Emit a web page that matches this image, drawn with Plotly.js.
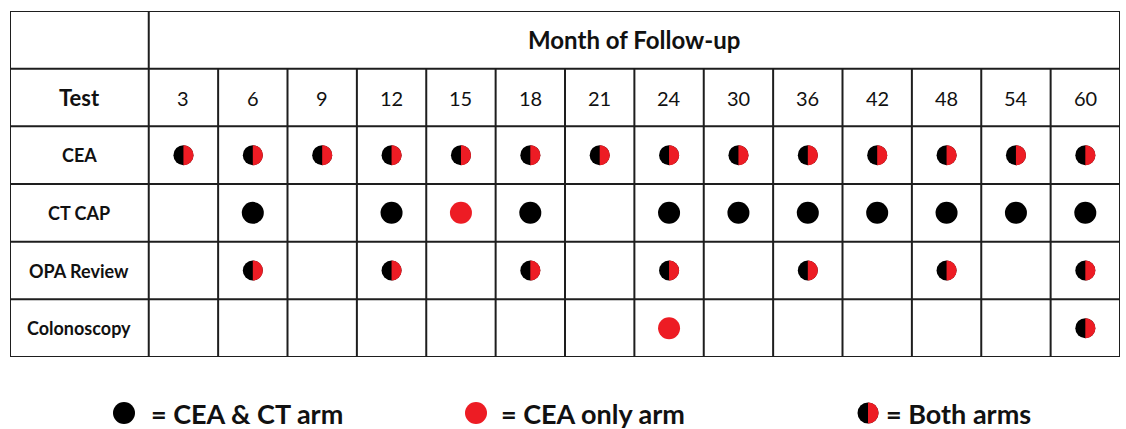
<!DOCTYPE html>
<html>
<head>
<meta charset="utf-8">
<script src="https://cdn.plot.ly/plotly-3.0.1.min.js"></script>
<style>
html,body{margin:0;padding:0;background:#fff;}
#chart{width:1126px;height:429px;}
</style>
</head>
<body>
<div id="chart"></div>
<script>
// ---- data ----
var headerTitle = "Month of Follow-up";
var firstColTitle = "Test";
var months = ["3","6","9","12","15","18","21","24","30","36","42","48","54","60"];
var tests = ["CEA", "CT CAP", "OPA Review", "Colonoscopy"];
// B = both arms, C = CEA & CT arm, O = CEA only arm, "" = none
var scheduleCEA         = ["B","B","B","B","B","B","B","B","B","B","B","B","B","B"];
var scheduleCTCAP       = ["", "C","", "C","O","C","", "C","C","C","C","C","C","C"];
var scheduleOPA         = ["", "B","", "B","", "B","", "B","", "B","", "B","", "B"];
var scheduleColonoscopy = ["", "", "", "", "", "", "", "O","", "", "", "", "", "B"];
var legendLabels = ["= CEA & CT arm", "= CEA only arm", "= Both arms"];
var legendKinds  = ["C", "O", "B"];

// ---- styles ----
var BLACK = "#000000";
var RED = "#ED1C24";
var LINE = "#1e1e1e";
var TEXT = "#111111";
var FONT = "Lato, 'Open Sans', sans-serif";

var schedules = [scheduleCEA, scheduleCTCAP, scheduleOPA, scheduleColonoscopy];

var pts = {C:{x:[],y:[]}, O:{x:[],y:[]}, B:{x:[],y:[]}};
schedules.forEach(function(row, r){
  row.forEach(function(code, c){
    if(code){ pts[code].x.push(c + 0.5); pts[code].y.push(r + 2.5); }
  });
});

function halfPath(rx, ry){
  var kx = 0.5523*rx, ky = 0.5523*ry;
  return "M0," + ry + " C" + kx + "," + ry + " " + rx + "," + ky + " " + rx + ",0" +
         " C" + rx + "," + (-ky) + " " + kx + "," + (-ry) + " 0," + (-ry) + " Z";
}

var traces = [
  {type:"scatter", mode:"markers", x:pts.C.x, y:pts.C.y, xaxis:"x", yaxis:"y",
   marker:{symbol:"circle", size:22, color:BLACK, line:{width:0}}, hoverinfo:"skip", showlegend:false},
  {type:"scatter", mode:"markers", x:pts.O.x, y:pts.O.y, xaxis:"x", yaxis:"y",
   marker:{symbol:"circle", size:22, color:RED, line:{width:0}}, hoverinfo:"skip", showlegend:false},
  {type:"scatter", mode:"markers", x:pts.B.x, y:pts.B.y, xaxis:"x", yaxis:"y",
   marker:{symbol:"circle", size:20, color:BLACK, line:{width:0}}, hoverinfo:"skip", showlegend:false}
];

var shapes = [];
// red right halves for "both arms"
pts.B.x.forEach(function(x, i){
  shapes.push({type:"path", xref:"x", yref:"y", xsizemode:"pixel", ysizemode:"pixel",
    xanchor:x, yanchor:pts.B.y[i], path:halfPath(10,10), fillcolor:RED, line:{width:0}, layer:"above"});
});

// table grid
var nCols = months.length;
var nRows = tests.length + 2;
for(var r = 0; r <= nRows; r++){
  shapes.push({type:"line", xref:"x", yref:"y", x0:-2, x1:nCols, y0:r, y1:r, line:{color:LINE, width:2}, layer:"below"});
}
[-2, 0, nCols].forEach(function(x){
  shapes.push({type:"line", xref:"x", yref:"y", x0:x, x1:x, y0:0, y1:nRows, line:{color:LINE, width:2}, layer:"below"});
});
for(var c = 1; c < nCols; c++){
  shapes.push({type:"line", xref:"x", yref:"y", x0:c, x1:c, y0:1, y1:nRows, line:{color:LINE, width:2}, layer:"below"});
}

var annotations = [];
annotations.push({xref:"x", yref:"y", x:nCols/2, y:0.5, text:"<b>" + headerTitle + "</b>", showarrow:false,
  font:{family:FONT, size:24, color:TEXT}});
annotations.push({xref:"x", yref:"y", x:-1, y:1.5, text:"<b>" + firstColTitle + "</b>", showarrow:false,
  font:{family:FONT, size:22, color:TEXT}});
months.forEach(function(m, i){
  annotations.push({xref:"x", yref:"y", x:i + 0.5, y:1.5, text:m, showarrow:false,
    font:{family:FONT, size:20, color:TEXT}});
});
tests.forEach(function(t, i){
  annotations.push({xref:"x", yref:"y", x:-1, y:i + 2.5, text:"<b>" + t + "</b>", showarrow:false,
    font:{family:FONT, size:18, color:TEXT}});
});

// legend (second axes in pixel-like units)
var legendMarkerX = [124, 476, 868];
var legendTextX = [149, 499, 884];
var legendY = 413;
var legPts = {C:{x:[],y:[]}, O:{x:[],y:[]}, B:{x:[],y:[]}};
legendKinds.forEach(function(k, i){
  legPts[k].x.push(legendMarkerX[i]); legPts[k].y.push(legendY);
  annotations.push({xref:"x2", yref:"y2", x:legendTextX[i], y:legendY, xanchor:"left", text:"<b>" + legendLabels[i] + "</b>",
    showarrow:false, font:{family:FONT, size:27, color:TEXT}});
});
traces.push({type:"scatter", mode:"markers", x:legPts.C.x, y:legPts.C.y, xaxis:"x2", yaxis:"y2",
  marker:{symbol:"circle", size:22, color:BLACK}, hoverinfo:"skip", showlegend:false});
traces.push({type:"scatter", mode:"markers", x:legPts.O.x, y:legPts.O.y, xaxis:"x2", yaxis:"y2",
  marker:{symbol:"circle", size:22, color:RED}, hoverinfo:"skip", showlegend:false});
traces.push({type:"scatter", mode:"markers", x:legPts.B.x, y:legPts.B.y, xaxis:"x2", yaxis:"y2",
  marker:{symbol:"circle", size:21, color:BLACK}, hoverinfo:"skip", showlegend:false});
legPts.B.x.forEach(function(x, i){
  shapes.push({type:"path", xref:"x2", yref:"y2", xsizemode:"pixel", ysizemode:"pixel",
    xanchor:x, yanchor:legPts.B.y[i], path:halfPath(10.5,10.5), fillcolor:RED, line:{width:0}, layer:"above"});
});

var layout = {
  width:1126, height:429,
  margin:{l:0, r:0, t:0, b:0, pad:0},
  paper_bgcolor:"#ffffff", plot_bgcolor:"rgba(0,0,0,0)",
  showlegend:false,
  xaxis:{domain:[10/1126, 1120/1126], range:[-2, nCols], visible:false, fixedrange:true},
  yaxis:{domain:[72/429, 418/429], range:[nRows, 0], visible:false, fixedrange:true},
  xaxis2:{domain:[0,1], range:[0,1126], visible:false, anchor:"y2", fixedrange:true},
  yaxis2:{domain:[0, 72/429], range:[429, 357], visible:false, anchor:"x2", fixedrange:true},
  shapes:shapes,
  annotations:annotations
};

Plotly.newPlot("chart", traces, layout, {staticPlot:true, displayModeBar:false});
</script>
</body>
</html>
